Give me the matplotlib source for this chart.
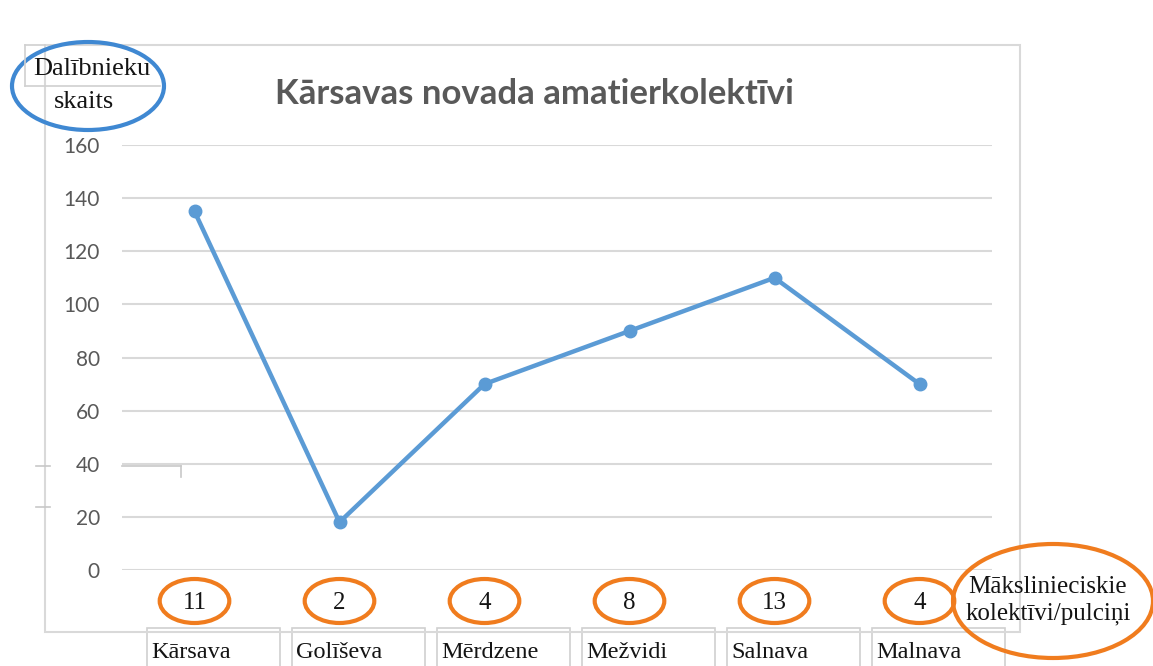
import matplotlib
matplotlib.use("Agg")
import matplotlib.pyplot as plt
from matplotlib.patches import Ellipse, Rectangle
from matplotlib.lines import Line2D
from matplotlib.transforms import blended_transform_factory

# chart data
places = ["Kārsava", "Golīševa", "Mērdzene", "Mežvidi", "Salnava", "Malnava"]
participants = [135, 18, 70, 90, 110, 70]
groups = [11, 2, 4, 8, 13, 4]
yticks = [0, 20, 40, 60, 80, 100, 120, 140, 160]

W, H = 1153, 666
fig = plt.figure(figsize=(W / 100, H / 100), dpi=100)
fig.patch.set_facecolor("white")

SERIF = "Liberation Serif"
INK = "#141414"
ORANGE = "#f07c1e"


def fx(px):
    return px / W


def fy(py):
    return 1 - py / H


def fig_line(xs, ys, color="#d0d0d0", lw=1.2):
    fig.add_artist(Line2D([fx(v) for v in xs], [fy(v) for v in ys],
                          transform=fig.transFigure, color=color, linewidth=lw))


# outer chart frame
fig.add_artist(Rectangle((fx(45), fy(632)), fx(1020) - fx(45), fy(45) - fy(632),
                         transform=fig.transFigure, fill=False,
                         edgecolor="#d9d9d9", linewidth=1.5))

# leftover table lines from the pasted document
fig_line([25, 160], [86, 86])
fig_line([25, 25], [45, 86])
fig_line([25, 45], [45, 45])
fig_line([122, 181], [466, 466], color="#c8c8c8")
fig_line([181, 181], [466, 477], color="#c8c8c8")
fig_line([36, 50], [466, 466], color="#c8c8c8")
fig_line([36, 50], [507, 507], color="#c8c8c8")

ax = fig.add_axes([fx(122), fy(570), fx(992) - fx(122), fy(145) - fy(570)])
ax.set_facecolor("none")
x = list(range(len(places)))
ax.plot(x, participants, color="#5b9bd5", linewidth=3.2, marker="o",
        markersize=9, solid_capstyle="round", zorder=3, clip_on=False)
ax.set_xlim(-0.5, len(places) - 0.5)
ax.set_ylim(0, 160)
ax.set_yticks(yticks)
ax.set_xticks([])
for spine in ax.spines.values():
    spine.set_visible(False)
ax.grid(axis="y", color="#d9d9d9", linewidth=1.5)
ax.set_axisbelow(True)
ax.tick_params(axis="y", length=0, pad=16, labelsize=15, labelcolor="#595959")
for lbl in ax.get_yticklabels():
    lbl.set_fontfamily("Lato")

fig.text(fx(534), fy(94), "Kārsavas novada amatierkolektīvi", ha="center",
         va="center", fontsize=25, fontweight="bold", color="#595959",
         family="Lato")

# count labels with orange ellipses and category table cells
trans = blended_transform_factory(ax.transData, fig.transFigure)
for i, (name, n) in enumerate(zip(places, groups)):
    ax.text(i, fy(603), str(n), transform=trans, ha="center", va="center",
            fontsize=18, family=SERIF, color=INK)
    ax.add_artist(Ellipse((i, fy(601)), 0.48, 44 / H, transform=trans,
                          fill=False, edgecolor=ORANGE, linewidth=3,
                          clip_on=False))
    left = i - 0.33
    ax.add_artist(Rectangle((left, fy(668)), 0.92, fy(628) - fy(668),
                            transform=trans, fill=False, edgecolor="#d0d0d0",
                            linewidth=1.2, clip_on=False))
    ax.text(left + 0.03, fy(652), name, transform=trans, ha="left",
            va="center", fontsize=17.5, family=SERIF, color=INK)

# y-axis caption in blue ellipse
fig.text(fx(92), fy(69), "Dalībnieku", ha="center", va="center", fontsize=19,
         family=SERIF, color=INK)
fig.text(fx(84), fy(102), "skaits", ha="center", va="center", fontsize=19,
         family=SERIF, color=INK)
fig.add_artist(Ellipse((fx(88), fy(86)), 152 / W, 88 / H,
                       transform=fig.transFigure, fill=False,
                       edgecolor="#3f88d2", linewidth=3))

# x-axis caption in orange ellipse
fig.text(fx(1048), fy(587), "Mākslinieciskie", ha="center", va="center",
         fontsize=18, family=SERIF, color=INK)
fig.text(fx(1048), fy(614), "kolektīvi/pulciņi", ha="center", va="center",
         fontsize=18, family=SERIF, color=INK)
fig.add_artist(Ellipse((fx(1053), fy(601)), 200 / W, 114 / H,
                       transform=fig.transFigure, fill=False,
                       edgecolor=ORANGE, linewidth=3))

fig.savefig("out.png", dpi=100)
